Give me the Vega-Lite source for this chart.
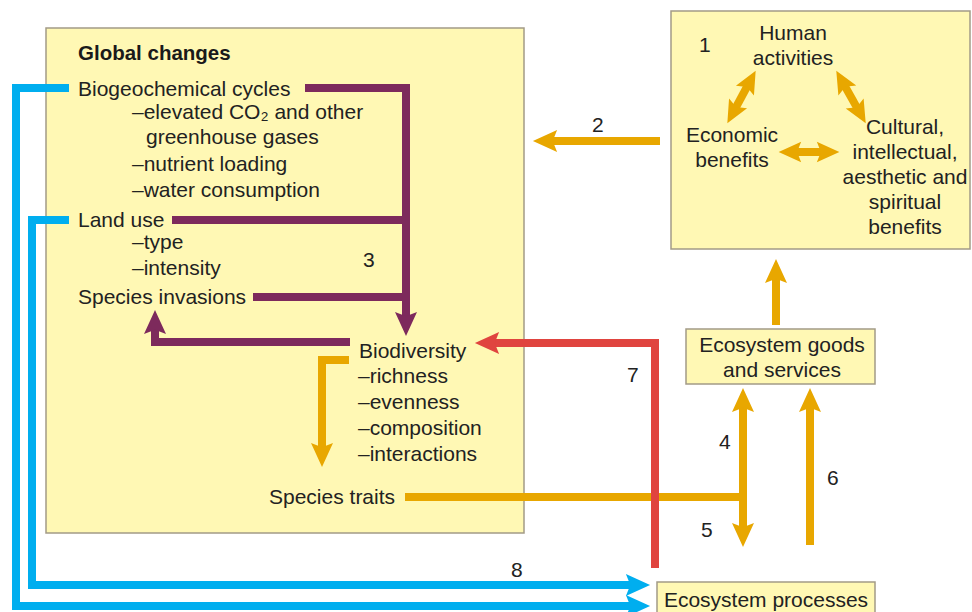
{
  "$schema": "https://vega.github.io/schema/vega-lite/v6.json",
  "width": 972,
  "height": 612,
  "padding": 0,
  "autosize": {"type": "none"},
  "background": "white",
  "config": {"view": {"stroke": null}},
  "datasets": {
    "boxes": [
      {"box": "Global changes", "x1": 46, "y1": 28, "x2": 524, "y2": 533},
      {"box": "Human activities", "x1": 671, "y1": 11, "x2": 970, "y2": 249},
      {"box": "Ecosystem goods and services", "x1": 686, "y1": 329, "x2": 875, "y2": 384},
      {"box": "Ecosystem processes", "x1": 657, "y1": 582, "x2": 875, "y2": 640}
    ],
    "paths": [
      {"path": "p1", "flow": "Global change drivers", "seq": 1, "x": 305, "y": 88},
      {"path": "p1", "flow": "Global change drivers", "seq": 2, "x": 406, "y": 88},
      {"path": "p1", "flow": "Global change drivers", "seq": 3, "x": 406, "y": 324},
      {"path": "p2", "flow": "Global change drivers", "seq": 1, "x": 172, "y": 220},
      {"path": "p2", "flow": "Global change drivers", "seq": 2, "x": 406, "y": 220},
      {"path": "p3", "flow": "Global change drivers", "seq": 1, "x": 253, "y": 297},
      {"path": "p3", "flow": "Global change drivers", "seq": 2, "x": 406, "y": 297},
      {"path": "p4", "flow": "Global change drivers", "seq": 1, "x": 350, "y": 342},
      {"path": "p4", "flow": "Global change drivers", "seq": 2, "x": 155, "y": 342},
      {"path": "p4", "flow": "Global change drivers", "seq": 3, "x": 155, "y": 322},
      {"path": "p5", "flow": "Ecosystem services", "seq": 1, "x": 349, "y": 360},
      {"path": "p5", "flow": "Ecosystem services", "seq": 2, "x": 322, "y": 360},
      {"path": "p5", "flow": "Ecosystem services", "seq": 3, "x": 322, "y": 455},
      {"path": "p6", "flow": "Ecosystem services", "seq": 1, "x": 405, "y": 497},
      {"path": "p6", "flow": "Ecosystem services", "seq": 2, "x": 743, "y": 497},
      {"path": "p7", "flow": "Ecosystem services", "seq": 1, "x": 743, "y": 400},
      {"path": "p7", "flow": "Ecosystem services", "seq": 2, "x": 743, "y": 535},
      {"path": "p8", "flow": "Ecosystem services", "seq": 1, "x": 810, "y": 545},
      {"path": "p8", "flow": "Ecosystem services", "seq": 2, "x": 810, "y": 400},
      {"path": "p9", "flow": "Ecosystem services", "seq": 1, "x": 776, "y": 325},
      {"path": "p9", "flow": "Ecosystem services", "seq": 2, "x": 776, "y": 271},
      {"path": "p10", "flow": "Ecosystem services", "seq": 1, "x": 660, "y": 141},
      {"path": "p10", "flow": "Ecosystem services", "seq": 2, "x": 545, "y": 141},
      {"path": "p11", "flow": "Ecosystem services", "seq": 1, "x": 732.7, "y": 113.3},
      {"path": "p11", "flow": "Ecosystem services", "seq": 2, "x": 750.3, "y": 80.7},
      {"path": "p12", "flow": "Ecosystem services", "seq": 1, "x": 841.8, "y": 80.6},
      {"path": "p12", "flow": "Ecosystem services", "seq": 2, "x": 860.2, "y": 113.4},
      {"path": "p13", "flow": "Ecosystem services", "seq": 1, "x": 789.9, "y": 152},
      {"path": "p13", "flow": "Ecosystem services", "seq": 2, "x": 828.1, "y": 152},
      {"path": "p14", "flow": "Feedback to biodiversity", "seq": 1, "x": 655, "y": 568},
      {"path": "p14", "flow": "Feedback to biodiversity", "seq": 2, "x": 655, "y": 343},
      {"path": "p14", "flow": "Feedback to biodiversity", "seq": 3, "x": 487, "y": 343},
      {"path": "p15", "flow": "Direct effects", "seq": 1, "x": 69, "y": 88},
      {"path": "p15", "flow": "Direct effects", "seq": 2, "x": 16, "y": 88},
      {"path": "p15", "flow": "Direct effects", "seq": 3, "x": 16, "y": 606},
      {"path": "p15", "flow": "Direct effects", "seq": 4, "x": 638, "y": 606},
      {"path": "p16", "flow": "Direct effects", "seq": 1, "x": 69, "y": 220},
      {"path": "p16", "flow": "Direct effects", "seq": 2, "x": 32, "y": 220},
      {"path": "p16", "flow": "Direct effects", "seq": 3, "x": 32, "y": 585},
      {"path": "p16", "flow": "Direct effects", "seq": 4, "x": 638, "y": 585}
    ],
    "heads": [
      {"flow": "Global change drivers", "kind": "large", "x": 406, "y": 324, "dir": 180},
      {"flow": "Global change drivers", "kind": "large", "x": 155, "y": 322, "dir": 0},
      {"flow": "Ecosystem services", "kind": "large", "x": 322, "y": 455, "dir": 180},
      {"flow": "Ecosystem services", "kind": "large", "x": 743, "y": 400, "dir": 0},
      {"flow": "Ecosystem services", "kind": "large", "x": 743, "y": 535, "dir": 180},
      {"flow": "Ecosystem services", "kind": "large", "x": 810, "y": 400, "dir": 0},
      {"flow": "Ecosystem services", "kind": "large", "x": 776, "y": 271, "dir": 0},
      {"flow": "Ecosystem services", "kind": "large", "x": 545, "y": 141, "dir": 270},
      {"flow": "Feedback to biodiversity", "kind": "large", "x": 487, "y": 343, "dir": 270},
      {"flow": "Direct effects", "kind": "large", "x": 638, "y": 606, "dir": 90},
      {"flow": "Direct effects", "kind": "large", "x": 638, "y": 585, "dir": 90},
      {"flow": "Ecosystem services", "kind": "small", "x": 750.3, "y": 80.7, "dir": 28.4},
      {"flow": "Ecosystem services", "kind": "small", "x": 732.7, "y": 113.3, "dir": 208.4},
      {"flow": "Ecosystem services", "kind": "small", "x": 860.2, "y": 113.4, "dir": 150.7},
      {"flow": "Ecosystem services", "kind": "small", "x": 841.8, "y": 80.6, "dir": 330.7},
      {"flow": "Ecosystem services", "kind": "small", "x": 789.9, "y": 152, "dir": 270},
      {"flow": "Ecosystem services", "kind": "small", "x": 828.1, "y": 152, "dir": 90}
    ],
    "title": [
      {"text": "Global changes", "x": 78, "y": 60}
    ],
    "leftText": [
      {"text": "Biogeochemical cycles", "x": 78, "y": 96},
      {"text": "–elevated CO₂ and other", "x": 132, "y": 119},
      {"text": "greenhouse gases", "x": 146, "y": 144},
      {"text": "–nutrient loading", "x": 132, "y": 171},
      {"text": "–water consumption", "x": 132, "y": 197},
      {"text": "Land use", "x": 78, "y": 227},
      {"text": "–type", "x": 132, "y": 249},
      {"text": "–intensity", "x": 132, "y": 275},
      {"text": "Species invasions", "x": 78, "y": 304},
      {"text": "Biodiversity", "x": 359, "y": 358},
      {"text": "–richness", "x": 358, "y": 383},
      {"text": "–evenness", "x": 358, "y": 409},
      {"text": "–composition", "x": 358, "y": 435},
      {"text": "–interactions", "x": 358, "y": 461},
      {"text": "Species traits", "x": 269, "y": 504},
      {"text": "3", "x": 363, "y": 267},
      {"text": "2", "x": 592, "y": 132},
      {"text": "1", "x": 699, "y": 52},
      {"text": "7", "x": 627, "y": 382},
      {"text": "4", "x": 719, "y": 449},
      {"text": "5", "x": 701, "y": 537},
      {"text": "6", "x": 827, "y": 485},
      {"text": "8", "x": 511, "y": 577}
    ],
    "centerText": [
      {"text": "Human", "x": 793, "y": 40},
      {"text": "activities", "x": 793, "y": 65},
      {"text": "Economic", "x": 732, "y": 142},
      {"text": "benefits", "x": 732, "y": 167},
      {"text": "Cultural,", "x": 905, "y": 134},
      {"text": "intellectual,", "x": 905, "y": 159},
      {"text": "aesthetic and", "x": 905, "y": 184},
      {"text": "spiritual", "x": 905, "y": 209},
      {"text": "benefits", "x": 905, "y": 234},
      {"text": "Ecosystem goods", "x": 782, "y": 352},
      {"text": "and services", "x": 782, "y": 377},
      {"text": "Ecosystem processes", "x": 766, "y": 607}
    ]
  },
  "layer": [
    {
      "data": {"name": "boxes"},
      "mark": {"type": "rect", "fill": "#fff8b4", "stroke": "#a39b86", "strokeWidth": 1.5},
      "encoding": {
        "x": {"field": "x1", "type": "quantitative", "scale": {"domain": [0, 972], "nice": false, "zero": false}, "axis": null},
        "x2": {"field": "x2"},
        "y": {"field": "y1", "type": "quantitative", "scale": {"domain": [0, 612], "nice": false, "zero": false, "reverse": true}, "axis": null},
        "y2": {"field": "y2"}
      }
    },
    {
      "data": {"name": "paths"},
      "mark": {"type": "line", "strokeWidth": 8, "strokeCap": "butt", "strokeJoin": "miter"},
      "encoding": {
        "x": {"field": "x", "type": "quantitative", "axis": null},
        "y": {"field": "y", "type": "quantitative", "axis": null},
        "detail": {"field": "path"},
        "order": {"field": "seq"},
        "color": {"field": "flow", "type": "nominal", "legend": null,
          "scale": {"domain": ["Global change drivers", "Ecosystem services", "Feedback to biodiversity", "Direct effects"],
                    "range": ["#7d2a5c", "#e8a700", "#e0443f", "#00aeef"]}}
      }
    },
    {
      "data": {"name": "heads"},
      "transform": [{"filter": "datum.kind === 'large'"}],
      "mark": {"type": "point", "shape": "M0,-1.1L1,1.1L0,0.7L-1,1.1Z", "filled": true, "size": 484, "opacity": 1, "strokeWidth": 0},
      "encoding": {
        "x": {"field": "x", "type": "quantitative", "axis": null},
        "y": {"field": "y", "type": "quantitative", "axis": null},
        "angle": {"field": "dir", "type": "quantitative", "scale": null},
        "color": {"field": "flow", "type": "nominal", "legend": null}
      }
    },
    {
      "data": {"name": "heads"},
      "transform": [{"filter": "datum.kind === 'small'"}],
      "mark": {"type": "point", "shape": "M0,-1.1L1,1.1L0,0.7L-1,1.1Z", "filled": true, "size": 420, "opacity": 1, "strokeWidth": 0},
      "encoding": {
        "x": {"field": "x", "type": "quantitative", "axis": null},
        "y": {"field": "y", "type": "quantitative", "axis": null},
        "angle": {"field": "dir", "type": "quantitative", "scale": null},
        "color": {"field": "flow", "type": "nominal", "legend": null}
      }
    },
    {
      "data": {"name": "title"},
      "mark": {"type": "text", "align": "left", "baseline": "alphabetic", "font": "Liberation Sans", "fontSize": 20.5, "fontWeight": "bold", "color": "#1a1a1a"},
      "encoding": {
        "x": {"field": "x", "type": "quantitative", "axis": null},
        "y": {"field": "y", "type": "quantitative", "axis": null},
        "text": {"field": "text"}
      }
    },
    {
      "data": {"name": "leftText"},
      "mark": {"type": "text", "align": "left", "baseline": "alphabetic", "font": "Liberation Sans", "fontSize": 21, "color": "#222222"},
      "encoding": {
        "x": {"field": "x", "type": "quantitative", "axis": null},
        "y": {"field": "y", "type": "quantitative", "axis": null},
        "text": {"field": "text"}
      }
    },
    {
      "data": {"name": "centerText"},
      "mark": {"type": "text", "align": "center", "baseline": "alphabetic", "font": "Liberation Sans", "fontSize": 21, "color": "#222222"},
      "encoding": {
        "x": {"field": "x", "type": "quantitative", "axis": null},
        "y": {"field": "y", "type": "quantitative", "axis": null},
        "text": {"field": "text"}
      }
    }
  ]
}
